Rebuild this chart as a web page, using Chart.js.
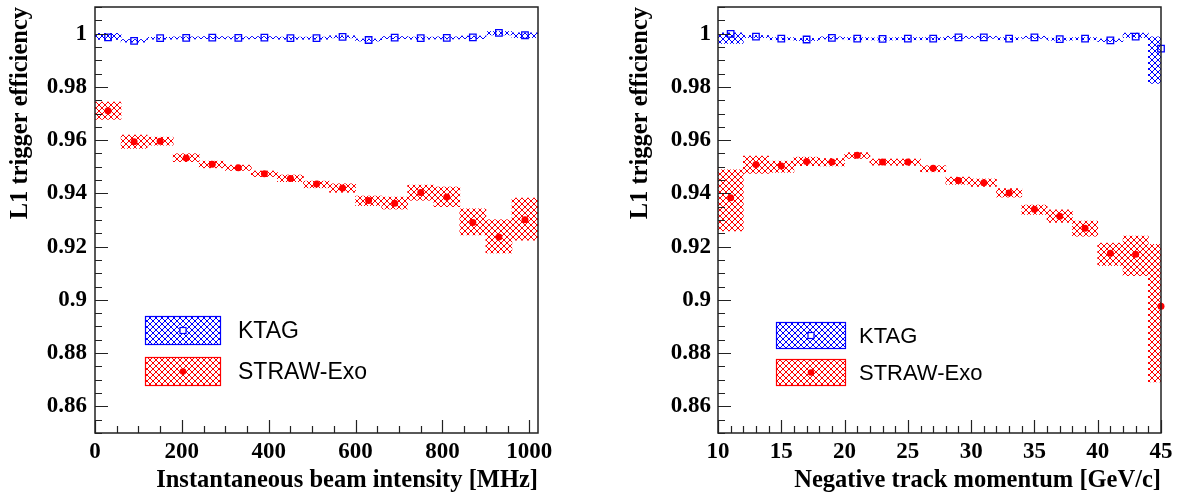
<!DOCTYPE html>
<html>
<head>
<meta charset="utf-8">
<script src="https://cdn.jsdelivr.net/npm/chart.js@4.4.1/dist/chart.umd.min.js"></script>
<style>
  body { margin: 0; background: #fff; }
  .pane { position: absolute; top: 0; height: 497px; }
</style>
</head>
<body>
<div class="pane" style="left:0;width:588px"><canvas id="intensityChart"></canvas></div>
<div class="pane" style="left:588px;width:589px"><canvas id="momentumChart"></canvas></div>
<script>
// ---- data: left panel (beam intensity, 60 MHz bins) ----
const intensityBins = [30, 90, 150, 210, 270, 330, 390, 450, 510, 570, 630, 690, 750, 810, 870, 930, 990];
const ktagIntensity     = [0.9986, 0.9973, 0.9983, 0.9984, 0.9985, 0.9984, 0.9985, 0.9983, 0.9983, 0.9988, 0.9976, 0.9985, 0.9983, 0.9984, 0.9986, 1.0003, 0.9994];
const ktagIntensityLow  = [0.9978, 0.9968, 0.9979, 0.9980, 0.9981, 0.9980, 0.9981, 0.9979, 0.9979, 0.9984, 0.9972, 0.9981, 0.9979, 0.9980, 0.9981, 0.9995, 0.9985];
const ktagIntensityHigh = [1.0001, 0.9978, 0.9986, 0.9988, 0.9989, 0.9988, 0.9989, 0.9987, 0.9987, 0.9992, 0.9980, 0.9989, 0.9987, 0.9988, 0.9991, 1.0008, 1.0003];
const strawIntensity     = [0.9710, 0.9594, 0.9596, 0.9533, 0.9509, 0.9496, 0.9474, 0.9456, 0.9435, 0.9420, 0.9373, 0.9363, 0.9403, 0.9386, 0.9291, 0.9236, 0.9301];
const strawIntensityLow  = [0.9678, 0.9569, 0.9581, 0.9519, 0.9496, 0.9486, 0.9463, 0.9444, 0.9421, 0.9404, 0.9354, 0.9341, 0.9374, 0.9350, 0.9244, 0.9176, 0.9224];
const strawIntensityHigh = [0.9743, 0.9619, 0.9611, 0.9549, 0.9521, 0.9506, 0.9484, 0.9469, 0.9446, 0.9436, 0.9390, 0.9386, 0.9431, 0.9424, 0.9342, 0.9301, 0.9382];

// ---- data: right panel (track momentum, 2 GeV/c bins) ----
const momentumBins = [11, 13, 15, 17, 19, 21, 23, 25, 27, 29, 31, 33, 35, 37, 39, 41, 43, 45];
const ktagMomentum     = [0.9999, 0.9989, 0.9981, 0.9978, 0.9984, 0.9981, 0.9980, 0.9981, 0.9981, 0.9986, 0.9986, 0.9981, 0.9986, 0.9979, 0.9981, 0.9975, 0.9989, 0.9944];
const ktagMomentumLow  = [0.9963, 0.9985, 0.9977, 0.9974, 0.9980, 0.9977, 0.9976, 0.9977, 0.9977, 0.9982, 0.9982, 0.9977, 0.9982, 0.9975, 0.9977, 0.9970, 0.9985, 0.9813];
const ktagMomentumHigh = [1.0003, 0.9993, 0.9985, 0.9982, 0.9988, 0.9985, 0.9984, 0.9985, 0.9985, 0.9990, 0.9990, 0.9985, 0.9990, 0.9983, 0.9985, 0.9980, 1.0002, 0.9988];
const strawMomentum     = [0.9384, 0.9508, 0.9503, 0.9520, 0.9518, 0.9543, 0.9518, 0.9518, 0.9494, 0.9448, 0.9440, 0.9401, 0.9340, 0.9314, 0.9269, 0.9175, 0.9171, 0.8976];
const strawMomentumLow  = [0.9259, 0.9475, 0.9479, 0.9504, 0.9503, 0.9531, 0.9506, 0.9505, 0.9481, 0.9434, 0.9426, 0.9386, 0.9321, 0.9291, 0.9239, 0.9129, 0.9091, 0.8692];
const strawMomentumHigh = [0.9488, 0.9540, 0.9521, 0.9536, 0.9531, 0.9553, 0.9529, 0.9529, 0.9504, 0.9461, 0.9454, 0.9418, 0.9356, 0.9338, 0.9296, 0.9213, 0.9240, 0.9209];

// ---- tick labels ----
const yTicks = [0.86, 0.88, 0.9, 0.92, 0.94, 0.96, 0.98, 1];
const intensityTicks = [0, 200, 400, 600, 800, 1000];
const momentumTicks = [10, 15, 20, 25, 30, 35, 40, 45];

const BLUE = '#0000ff';
const RED = '#ff0000';

Chart.defaults.font.family = "'Liberation Serif', 'Times New Roman', serif";
Chart.defaults.color = '#000';

function hatch(color) {
	const c = document.createElement('canvas');
	c.width = c.height = 6;
	const g = c.getContext('2d');
	g.strokeStyle = color;
	g.lineWidth = 1;
	g.beginPath();
	g.moveTo(-1, -1); g.lineTo(7, 7);
	g.moveTo(7, -1); g.lineTo(-1, 7);
	g.stroke();
	return g.createPattern(c, 'repeat');
}

// ROOT-like frame with inward ticks
const rootFrame = {
	id: 'rootFrame',
	afterDatasetsDraw(chart, args, o) {
		const {ctx, chartArea: a, scales: {x, y}} = chart;
		ctx.save();
		ctx.strokeStyle = '#222';
		ctx.lineWidth = 1.5;
		ctx.strokeRect(a.left, a.top, a.right - a.left, a.bottom - a.top);
		ctx.lineWidth = 1.2;
		ctx.beginPath();
		const each = (min, max, step, major, fn) => {
			for (let k = Math.ceil(min / step - 1e-9); k * step <= max + 1e-9; k++) {
				const v = k * step;
				const r = v / major;
				fn(v, Math.abs(r - Math.round(r)) < 1e-6);
			}
		};
		each(y.min, y.max, o.yMinor, o.yMajor, (v, big) => {
			const py = Math.round(y.getPixelForValue(v)) + 0.5;
			ctx.moveTo(a.left, py);
			ctx.lineTo(a.left + (big ? 13 : 7), py);
		});
		each(x.min, x.max, o.xMinor, o.xMajor, (v, big) => {
			const px = Math.round(x.getPixelForValue(v)) + 0.5;
			ctx.moveTo(px, a.bottom);
			ctx.lineTo(px, a.bottom - (big ? 13 : 7));
		});
		ctx.stroke();
		ctx.restore();
	}
};

// legend drawn inside the frame
const rootLegend = {
	id: 'rootLegend',
	afterDraw(chart, args, o) {
		const {ctx, chartArea: a} = chart;
		o.items.forEach((it, i) => {
			const x = a.left + o.x;
			const y = a.top + o.y + i * o.step;
			ctx.save();
			ctx.fillStyle = hatch(it.color);
			ctx.fillRect(x, y, o.w, o.h);
			ctx.strokeStyle = it.color;
			ctx.lineWidth = 1.2;
			ctx.strokeRect(x + 0.5, y + 0.5, o.w - 1, o.h - 1);
			const cx = x + o.w / 2, cy = y + o.h / 2;
			if (it.marker === 'rect') {
				ctx.fillStyle = '#fff';
				ctx.fillRect(cx - 3, cy - 3, 6, 6);
				ctx.strokeRect(cx - 3, cy - 3, 6, 6);
			} else {
				ctx.fillStyle = it.color;
				ctx.beginPath();
				ctx.arc(cx, cy, 3.3, 0, Math.PI * 2);
				ctx.fill();
			}
			ctx.fillStyle = '#000';
			ctx.font = o.font;
			ctx.textBaseline = 'middle';
			ctx.fillText(it.label, x + o.w + o.gap, cy + 1);
			ctx.restore();
		});
	}
};

const band = (bins, low, high) => bins.map((x, i) => ({x, y: [low[i], high[i]]}));
const points = (bins, vals) => bins.map((x, i) => ({x, y: vals[i]}));

const drawPanel = (id, cfg) => new Chart(document.getElementById(id), {
	type: 'bar',
	data: {
		datasets: [
			{type: 'bar', data: band(cfg.bins, cfg.strawLow, cfg.strawHigh), backgroundColor: hatch(RED), borderWidth: 0, grouped: false, barPercentage: 1, categoryPercentage: 1, clip: 0},
			{type: 'bar', data: band(cfg.bins, cfg.ktagLow, cfg.ktagHigh), backgroundColor: hatch(BLUE), borderWidth: 0, grouped: false, barPercentage: 1, categoryPercentage: 1, clip: 0},
			{type: 'scatter', data: points(cfg.bins, cfg.straw), pointStyle: 'circle', pointRadius: 3.5, backgroundColor: RED, borderWidth: 0, clip: false},
			{type: 'scatter', data: points(cfg.bins, cfg.ktag), pointStyle: 'rect', pointRadius: 4.6, backgroundColor: 'rgba(0,0,0,0)', borderColor: BLUE, borderWidth: 1.3, clip: false}
		]
	},
	options: {
		responsive: true,
		maintainAspectRatio: false,
		animation: false,
		layout: {padding: {top: 7, right: cfg.padRight, bottom: 0, left: 0}},
		plugins: {
			legend: {display: false},
			tooltip: {enabled: false},
			rootFrame: cfg.frame,
			rootLegend: cfg.legend
		},
		scales: {
			x: {
				type: 'linear',
				min: cfg.xMin,
				max: cfg.xMax,
				offset: false,
				grid: {display: false, drawTicks: false},
				border: {display: false},
				afterBuildTicks: s => { s.ticks = cfg.xTicks.map(v => ({value: v})); },
				afterFit: s => { s.height = 64; s.paddingLeft = 0; s.paddingRight = 0; },
				ticks: {font: {size: 23, weight: 'bold'}, padding: 5, maxRotation: 0, autoSkip: false, callback: v => String(v)},
				title: {display: true, text: cfg.xTitle, align: 'end', font: {size: 24.5, weight: 'bold'}, padding: {top: 0, bottom: 2}}
			},
			y: {
				min: 0.85,
				max: 1.01,
				grid: {display: false, drawTicks: false},
				border: {display: false},
				afterBuildTicks: s => { s.ticks = yTicks.map(v => ({value: v})); },
				afterFit: s => { s.width = cfg.yWidth; s.paddingTop = 0; s.paddingBottom = 0; },
				ticks: {font: {size: 23, weight: 'bold'}, padding: cfg.yPad, autoSkip: false, callback: v => String(Math.round(v * 100) / 100)},
				title: {display: true, text: 'L1 trigger efficiency', align: 'end', font: {size: 24.5, weight: 'bold'}, padding: {top: cfg.yTitlePad, bottom: 0}}
			}
		}
	},
	plugins: [rootFrame, rootLegend]
});

drawPanel('intensityChart', {
	bins: intensityBins,
	ktag: ktagIntensity, ktagLow: ktagIntensityLow, ktagHigh: ktagIntensityHigh,
	straw: strawIntensity, strawLow: strawIntensityLow, strawHigh: strawIntensityHigh,
	xMin: 0, xMax: 1020, xTicks: intensityTicks,
	xTitle: 'Instantaneous beam intensity [MHz]',
	padRight: 50, yWidth: 95, yPad: 8, yTitlePad: 6,
	frame: {yMinor: 0.005, yMajor: 0.02, xMinor: 50, xMajor: 200},
	legend: {x: 50, y: 309, w: 76, h: 29, step: 41, gap: 17, font: "23px 'Liberation Sans', Arial, sans-serif",
		items: [{label: 'KTAG', color: BLUE, marker: 'rect'}, {label: 'STRAW-Exo', color: RED, marker: 'circle'}]}
});

drawPanel('momentumChart', {
	bins: momentumBins,
	ktag: ktagMomentum, ktagLow: ktagMomentumLow, ktagHigh: ktagMomentumHigh,
	straw: strawMomentum, strawLow: strawMomentumLow, strawHigh: strawMomentumHigh,
	xMin: 10, xMax: 45, xTicks: momentumTicks,
	xTitle: 'Negative track momentum [GeV/c]',
	padRight: 16, yWidth: 130, yPad: 7, yTitlePad: 38,
	frame: {yMinor: 0.005, yMajor: 0.02, xMinor: 1, xMajor: 5},
	legend: {x: 58, y: 315, w: 70, h: 27, step: 37, gap: 13, font: "22px 'Liberation Sans', Arial, sans-serif",
		items: [{label: 'KTAG', color: BLUE, marker: 'rect'}, {label: 'STRAW-Exo', color: RED, marker: 'circle'}]}
});
</script>
</body>
</html>
